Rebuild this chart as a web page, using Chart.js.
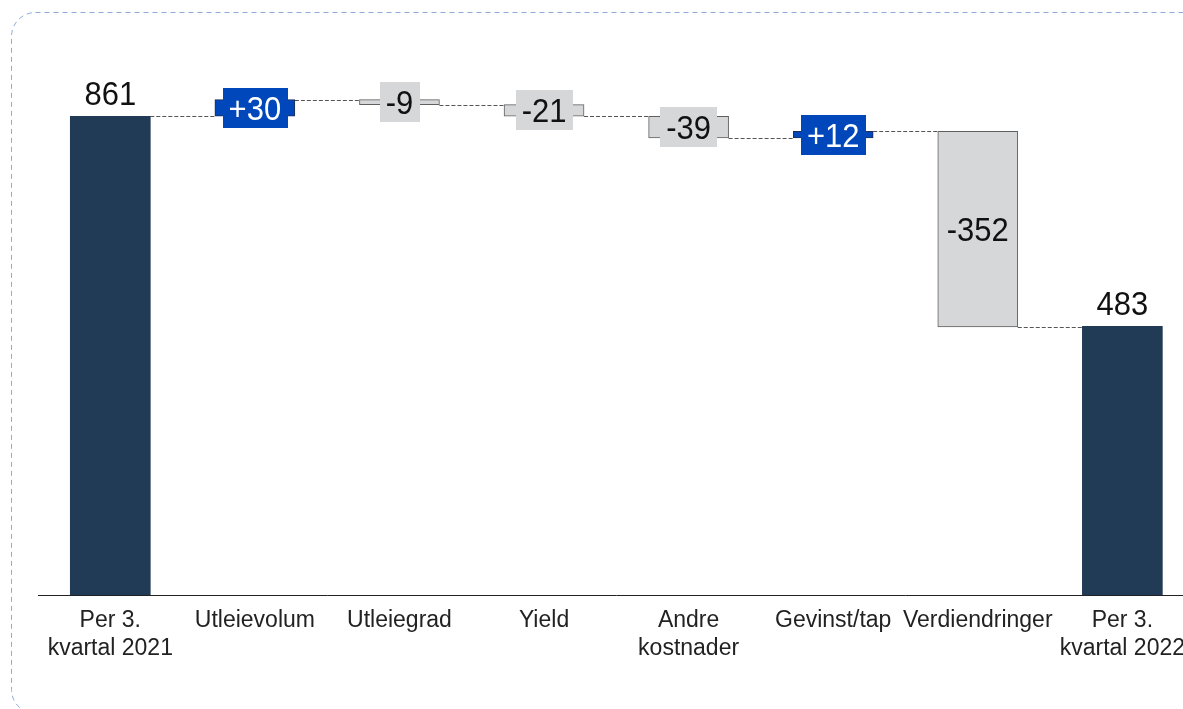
<!DOCTYPE html>
<html>
<head>
<meta charset="utf-8">
<style>
  html, body { margin: 0; padding: 0; background: #fff; overflow: hidden; width: 1183px; height: 709px; }
  #wrap { position: absolute; left: 0; top: 0; width: 1197px; height: 709px; }
</style>
<script src="https://cdn.jsdelivr.net/npm/chart.js@4/dist/chart.umd.min.js"></script>
</head>
<body>
<div id="wrap"><canvas id="c"></canvas></div>
<script>
// Resultatbro: fra 3. kvartal 2021 til 3. kvartal 2022
const categories = [
  ['Per 3.', 'kvartal 2021'],
  'Utleievolum',
  'Utleiegrad',
  'Yield',
  ['Andre', 'kostnader'],
  'Gevinst/tap',
  'Verdiendringer',
  ['Per 3.', 'kvartal 2022']
];
const changes = [861, 30, -9, -21, -39, 12, -352, 483];
const isTotal = [true, false, false, false, false, false, false, true];

const FONT = "'Liberation Sans', Arial, sans-serif";
const COL_TOTAL = '#213a56';
const COL_UP = '#0047bb';
const COL_DOWN = '#d6d7d9';

// floating ranges and running level after each step
const ranges = [];
const levels = [];
let run = 0;
changes.forEach((v, i) => {
  if (isTotal[i]) { ranges.push([0, v]); run = v; }
  else { ranges.push([run, run + v]); run += v; }
  levels.push(run);
});

const kindColor = (i) => isTotal[i] ? COL_TOTAL : (changes[i] > 0 ? COL_UP : COL_DOWN);
const labelText = (i) => isTotal[i] ? String(changes[i]) : (changes[i] > 0 ? '+' + changes[i] : String(changes[i]));

const framePlugin = {
  id: 'frame',
  beforeDraw(chart) {
    const ctx = chart.ctx;
    ctx.save();
    ctx.fillStyle = '#fff';
    ctx.fillRect(0, 0, chart.width, chart.height);
    ctx.strokeStyle = '#8faad8';
    ctx.lineWidth = 1;
    ctx.setLineDash([5, 4]);
    ctx.beginPath();
    ctx.roundRect(11.5, 12.5, 1300, 701, 24);
    ctx.stroke();
    ctx.restore();
  }
};

// draws text slightly taller than wide, baseline at y
function tallText(ctx, txt, x, y) {
  ctx.save();
  ctx.translate(x, y);
  ctx.scale(1, 1.07);
  ctx.fillText(txt, 0, 0);
  ctx.restore();
}

const waterfallPlugin = {
  id: 'waterfall',
  beforeDatasetsDraw(chart) {
    const ctx = chart.ctx;
    const meta = chart.getDatasetMeta(0);
    const ys = chart.scales.y;
    ctx.save();
    ctx.setLineDash([4, 2]);
    ctx.strokeStyle = '#555';
    ctx.lineWidth = 1;
    for (let i = 0; i < meta.data.length - 1; i++) {
      const a = meta.data[i], b = meta.data[i + 1];
      const y = Math.round(ys.getPixelForValue(levels[i])) + 0.5;
      ctx.beginPath();
      ctx.moveTo(a.x + a.width / 2, y);
      ctx.lineTo(b.x - b.width / 2, y);
      ctx.stroke();
    }
    ctx.restore();
  },
  afterDatasetsDraw(chart) {
    const ctx = chart.ctx;
    const meta = chart.getDatasetMeta(0);
    ctx.save();
    ctx.font = '31px ' + FONT;
    ctx.textAlign = 'center';
    ctx.textBaseline = 'alphabetic';
    meta.data.forEach((el, i) => {
      const txt = labelText(i);
      const top = Math.min(el.y, el.base);
      if (isTotal[i]) {
        ctx.fillStyle = '#111';
        tallText(ctx, txt, el.x, top - 11);
        return;
      }
      const cy = (el.y + el.base) / 2;
      const w = ctx.measureText(txt).width + 12;
      const h = 40;
      ctx.fillStyle = kindColor(i);
      ctx.fillRect(Math.round(el.x - w / 2), Math.round(cy - h / 2), Math.round(w), h);
      ctx.fillStyle = changes[i] > 0 ? '#fff' : '#111';
      tallText(ctx, txt, el.x, cy + 12);
    });
    ctx.restore();
  }
};

new Chart(document.getElementById('c'), {
  type: 'bar',
  data: {
    labels: categories,
    datasets: [{
      data: ranges,
      backgroundColor: changes.map((v, i) => kindColor(i)),
      borderColor: changes.map((v, i) => isTotal[i] ? COL_TOTAL : (v > 0 ? '#1f2f55' : '#606060')),
      borderWidth: changes.map((v, i) => isTotal[i] ? 0 : 1),
      borderSkipped: false,
      barThickness: 80
    }]
  },
  options: {
    responsive: true,
    maintainAspectRatio: false,
    animation: false,
    layout: { padding: { top: 39, left: 38, right: 0, bottom: 0 } },
    plugins: { legend: { display: false }, tooltip: { enabled: false } },
    scales: {
      x: {
        grid: { display: false, drawTicks: false },
        border: { display: true, color: '#222', width: 1 },
        ticks: { color: '#222', font: { family: FONT, size: 23 }, padding: 12, maxRotation: 0, autoSkip: false },
        afterFit(scale) { scale.height = 114; }
      },
      y: { display: false, min: 0, max: 1000 }
    }
  },
  plugins: [framePlugin, waterfallPlugin]
});
</script>
</body>
</html>
